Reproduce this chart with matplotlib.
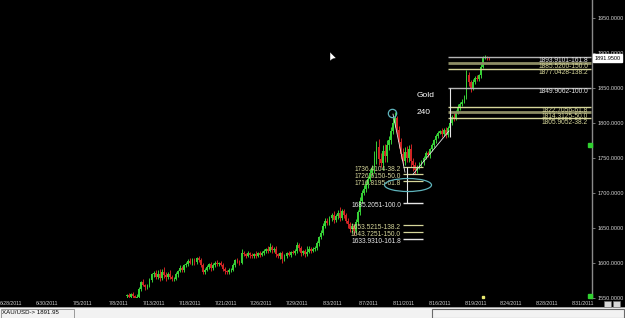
import numpy as np
import matplotlib
matplotlib.use('Agg')
import matplotlib.pyplot as plt
from matplotlib.patches import Ellipse, Rectangle, Polygon

# Step 1: data (XAU/USD, 240 minute bars)
first_open = 1552
closes = [
    1553, 1551, 1555, 1552, 1549, 1551,
    1562, 1572,
    1568, 1565, 1567,
    1575, 1583, 1585,
    1580, 1583, 1578, 1586, 1582, 1579, 1584, 1580,
    1576, 1577,
    1583, 1588, 1592, 1590, 1596, 1598,
    1602, 1600, 1604, 1601, 1606, 1604,
    1596, 1587, 1590,
    1594, 1598, 1592, 1596, 1600, 1598,
    1599, 1597,
    1591, 1588, 1586, 1589, 1590,
    1597, 1603, 1601,
    1600, 1614, 1612,
    1610, 1613, 1611, 1609, 1612, 1610, 1613, 1611, 1614,
    1616, 1619, 1617, 1622, 1618, 1620,
    1612, 1610, 1613, 1605, 1609,
    1613, 1611, 1615, 1614, 1617,
    1625, 1621,
    1613, 1616, 1612, 1615, 1620,
    1617, 1619, 1621,
    1628, 1636, 1642,
    1652, 1660, 1657,
    1663, 1668, 1661, 1666, 1671, 1664, 1673, 1668,
    1660, 1655, 1648, 1652, 1645, 1658,
    1672, 1688, 1700, 1705,
    1712, 1720, 1728, 1735,
    1750, 1765, 1748, 1742, 1760, 1752, 1768, 1775,
    1788, 1800, 1806,
    1790, 1772, 1755, 1745,
    1758, 1750, 1762, 1745, 1740,
    1732, 1736, 1740,
    1744, 1750, 1756, 1754, 1762, 1768, 1775, 1781,
    1785, 1788, 1784, 1790, 1782,
    1792, 1800, 1808, 1805, 1815, 1822,
    1826, 1830, 1836,
    1868, 1858,
    1850, 1858,
    1864, 1862, 1868,
    1880, 1893,
    1894, 1892, 1891.95,
]
wick_up = [
    2, 3, 2, 3, 2, 4,
    3, 2,
    4, 2, 3,
    3, 2, 3,
    4, 6, 8, 5, 7, 4, 3, 6,
    2, 3,
    3, 2, 4, 3, 2, 3,
    3, 4, 2, 3, 2, 4,
    2, 3, 2,
    3, 2, 3, 4, 2, 3,
    2, 3,
    2, 3, 2, 3, 2,
    3, 2, 4,
    3, 6, 3,
    2, 3, 2, 3, 2, 4, 2, 3, 2,
    3, 2, 4, 6, 3, 2,
    3, 2, 2, 4, 3,
    2, 3, 2, 3, 2,
    4, 3,
    3, 2, 3, 8, 3,
    2, 3, 2,
    3, 2, 4,
    5, 3, 4,
    4, 3, 5, 3, 4, 9, 3, 4,
    3, 4, 3, 5, 3, 4,
    3, 5, 4, 6,
    5, 4, 6, 5,
    10, 8, 12, 9, 8, 10, 7, 6,
    5, 6, 9,
    4, 5, 6, 8,
    7, 9, 6, 8, 5,
    4, 3, 3,
    3, 2, 3, 4, 2, 3, 2, 3,
    3, 2, 4, 2, 3,
    3, 4, 3, 5, 3, 4,
    3, 4, 3,
    7, 4,
    3, 4,
    3, 4, 2,
    3, 2,
    2, 1, 1,
]
wick_down = [
    3, 2, 3, 4, 3, 2,
    2, 3,
    2, 4, 3,
    2, 3, 4,
    3, 4, 5, 3, 4, 6, 3, 4,
    3, 2,
    2, 3, 2, 3, 3, 2,
    3, 2, 3, 4, 3, 3,
    3, 4, 3,
    2, 3, 4, 3, 2, 3,
    3, 2,
    3, 4, 3, 2, 3,
    2, 3, 2,
    3, 2, 3,
    3, 2, 4, 3, 2, 3, 2, 3, 2,
    3, 2, 3, 2, 4, 3,
    4, 3, 5, 5, 3,
    3, 2, 3, 2, 3,
    3, 4,
    3, 2, 4, 3, 2,
    3, 2, 3,
    3, 4, 3,
    3, 2, 4,
    3, 4, 5, 3, 4, 5, 3, 4,
    3, 5, 4, 6, 5, 3,
    3, 4, 3, 4,
    4, 5, 3, 4,
    7, 9, 8, 6, 10, 8, 9, 7,
    6, 5, 7,
    6, 8, 7, 6,
    5, 7, 6, 8, 9,
    5, 4, 3,
    3, 4, 2, 3, 4, 2, 3, 4,
    3, 2, 5, 3, 4,
    3, 2, 4, 3, 2, 3,
    4, 3, 2,
    3, 6,
    7, 3,
    3, 2, 3,
    4, 2,
    2, 2, 2,
]

date_labels = ['6/28/2011', '6/30/2011', '7/5/2011', '7/8/2011', '7/13/2011', '7/18/2011',
               '7/21/2011', '7/26/2011', '7/29/2011', '8/3/2011', '8/7/2011', '8/11/2011',
               '8/16/2011', '8/19/2011', '8/24/2011', '8/28/2011', '8/31/2011']
price_ticks = [1550, 1600, 1650, 1700, 1750, 1800, 1850, 1900, 1950]
last_price = 1891.95

left_fib_levels = [1736.4104, 1726.6150, 1716.8195, 1685.2051, 1653.5215, 1643.7251, 1633.9310]
left_fib_pcts = ['38.2', '50.0', '61.8', '100.0', '138.2', '150.0', '161.8']
right_fib_levels = [1893.9101, 1885.5200, 1877.0428, 1849.9062, 1822.7056, 1814.3125, 1805.9052]
right_fib_pcts = ['161.8', '150.0', '138.2', '100.0', '61.8', '50.0', '38.2']

# Step 2: build OHLC
closes = np.array(closes, dtype=float)
opens = np.concatenate([[first_open], closes[:-1]])
highs = np.maximum(opens, closes) + np.array(wick_up)
lows = np.minimum(opens, closes) - np.array(wick_down)
x = np.arange(len(closes))

GREEN = '#36d036'
RED = '#d02424'
KHAKI = '#d6d69a'
WHITE = '#e6e6e6'
cols = [GREEN if c >= o else RED for o, c in zip(opens, closes)]

plt.rcParams['font.family'] = ['Liberation Sans', 'DejaVu Sans']

# pixel layout helpers (bar spacing ~2.045 px, first bar at px 127)
PX0, PXB = 127, 2.045
def bx(px):
    return (px - PX0) / PXB

fig = plt.figure(figsize=(6.25, 3.18), dpi=100, facecolor='black')
ax = fig.add_axes([0, 20 / 318, 592 / 625, 298 / 318])
ax.set_facecolor('black')

# Step 3: candles
ax.vlines(x, lows, highs, colors=cols, lw=0.7, zorder=2)
body = np.abs(closes - opens)
body = np.where(body < 0.8, 0.8, body)
ax.bar(x, body, bottom=np.minimum(opens, closes), width=0.9, color=cols, lw=0, zorder=3)

# Step 4: fibonacci drawings
FIB_FS = 4.8
for lvl, pct in zip(left_fib_levels, left_fib_pcts):
    main = pct in ('100.0', '161.8')
    ax.hlines(lvl, bx(403), bx(423), color=WHITE if main else KHAKI, lw=1.0 if main else 0.9, zorder=4)
    ax.text(bx(401), lvl + 1.5, f'{lvl:.4f}-{pct}', color=WHITE if main else KHAKI,
            fontsize=FIB_FS, ha='right', va='top', zorder=5)
for lvl, pct in zip(right_fib_levels, right_fib_pcts):
    main = pct in ('100.0', '161.8')
    band = pct in ('150.0', '50.0')
    lc = '#b4b4b4' if main else ('#8c8c64' if band else KHAKI)
    ax.hlines(lvl, bx(448), bx(591), color=lc, lw=2.0 if band else 1.0, zorder=4)
    ax.text(bx(588), lvl - 0.3, f'{lvl:.4f}-{pct}', color=WHITE if main else KHAKI,
            fontsize=FIB_FS, ha='right', va='top', zorder=5)

ax.vlines(bx(407), left_fib_levels[3], left_fib_levels[0], color=WHITE, lw=0.8, zorder=4)
ax.vlines(bx(450), 1778.7, right_fib_levels[3], color=WHITE, lw=0.8, zorder=4)
# swing lines
ax.plot([bx(393), bx(405)], [1812, 1729], color=WHITE, lw=0.6, zorder=4)
ax.plot([bx(413), bx(449)], [1726, 1788], color=WHITE, lw=0.6, zorder=4)

# circle at the top and ellipse round the retracement
ax.plot(bx(392), 1813.6, marker='o', ms=6, mfc='none', mec='#5fb4bc', mew=0.9, zorder=6)
ax.add_patch(Ellipse((bx(408), 1710.7), 47 / PXB, 13 / 0.7, fill=False,
                     ec='#5fb4bc', lw=0.9, zorder=6))

ax.text(bx(417), 1839, 'Gold', color='white', fontsize=6, va='center')
ax.text(bx(417), 1815, '240', color='white', fontsize=6, va='center')

# Step 5: axes
ax.set_xlim(bx(0), bx(592))
ax.set_ylim(1549.3, 1549.3 + 298 / 0.7)
for s in ['top', 'left', 'bottom']:
    ax.spines[s].set_visible(False)
ax.spines['right'].set_color('#8a8a8a')
ax.spines['right'].set_linewidth(1.0)

ax.yaxis.tick_right()
ax.set_yticks(price_ticks)
ax.set_yticklabels([f'{p:.4f}' for p in price_ticks])
ax.tick_params(axis='y', colors='#8a8a8a', labelcolor='#d0d0d0', length=2, width=0.6,
               pad=2, labelsize=4.0)
ax.set_xticks([bx(11.5 + 35.7 * k) for k in range(len(date_labels))])
ax.set_xticklabels(date_labels)
ax.tick_params(axis='x', length=0, pad=2.5, labelcolor='#d0d0d0', labelsize=3.7)

# current price box
ax.text(1.004, last_price, f'{last_price:.4f}', transform=ax.get_yaxis_transform(),
        fontsize=4.0, color='black', va='center', ha='left', clip_on=False,
        bbox=dict(boxstyle='square,pad=0.25', fc='white', ec='white'))

# small markers of the platform
ax.plot(0.996, 1767.9, marker='s', ms=3, color='#30d030', transform=ax.get_yaxis_transform(),
        clip_on=False, zorder=7)
ax.plot(0.996, 1552, marker='s', ms=3.2, color='#30d030', transform=ax.get_yaxis_transform(),
        clip_on=False, zorder=7)
ax.plot(bx(483), 1550.2, marker='s', ms=1.8, color='#e8e870', clip_on=False, zorder=7)

# mouse cursor
cx, cy = 330 / 625, 1 - 52 / 318
fig.patches.append(Polygon([[cx, cy], [cx, cy - 9 / 318], [cx + 2.5 / 625, cy - 7 / 318],
                            [cx + 6 / 625, cy - 6 / 318]], closed=True, fc='white', ec='black',
                           lw=0.3, transform=fig.transFigure))

# Step 6: status bar at the bottom
fig.patches.append(Rectangle((0, 0), 1, 10 / 318, fc='#f2f2f2', ec='none', transform=fig.transFigure))
fig.patches.append(Rectangle((0, 10 / 318), 1, 0.8 / 318, fc='#9a9a9a', ec='none', transform=fig.transFigure))
fig.patches.append(Rectangle((0.5 / 625, 0.5 / 318), 73 / 625, 9 / 318, fill=False, ec='#8a8a8a',
                             lw=0.6, transform=fig.transFigure))
fig.patches.append(Rectangle((432 / 625, 0.5 / 318), 192 / 625, 9 / 318, fill=False, ec='#6a6a6a',
                             lw=0.8, transform=fig.transFigure))
fig.text(2 / 625, 5 / 318, f'XAU/USD-> {last_price:.2f}', fontsize=4.4, color='black', va='center')
for ix in (604, 613):
    fig.patches.append(Rectangle((ix / 625, 11 / 318), 7 / 625, 6 / 318, fc='#d8d8d8', ec='#707070',
                                 lw=0.4, transform=fig.transFigure))

fig.savefig('out.png', dpi=100, facecolor='black')
